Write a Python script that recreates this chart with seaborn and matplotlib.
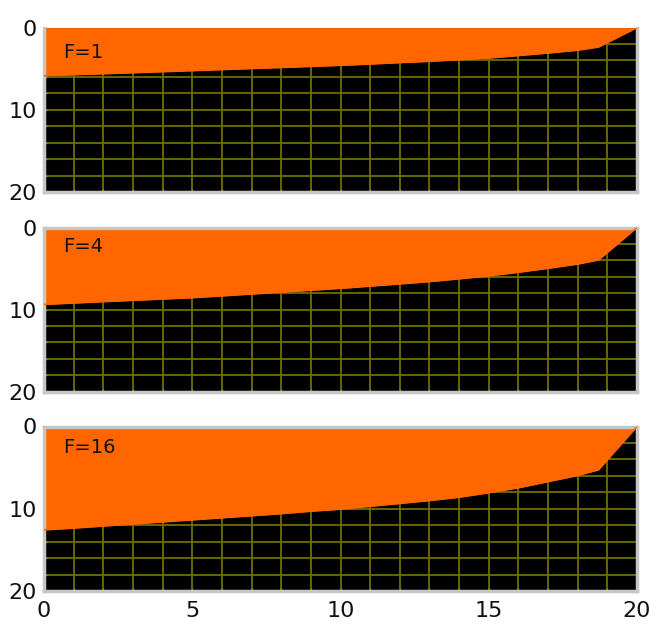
import numpy as np
import pandas as pd
import matplotlib
matplotlib.use("Agg")
import matplotlib.pyplot as plt
import seaborn as sns

# distance along the section and depth of the orange region
x_pos = [0, 1, 2, 3, 4, 5, 6, 7, 8, 9, 10, 11, 12, 13, 14, 15, 16, 17, 18, 18.7, 20]
depth_f1 = [5.85, 5.73, 5.61, 5.49, 5.36, 5.24, 5.11, 4.98, 4.85, 4.72, 4.59,
            4.43, 4.26, 4.10, 3.90, 3.70, 3.40, 3.09, 2.75, 2.36, 0.0]
depth_f4 = [9.36, 9.20, 9.03, 8.87, 8.71, 8.55, 8.33, 8.10, 7.87, 7.64, 7.41,
            7.14, 6.87, 6.59, 6.25, 5.90, 5.45, 4.97, 4.45, 3.95, 0.0]
depth_f16 = [12.57, 12.35, 12.10, 11.85, 11.60, 11.35, 11.10, 10.85, 10.60, 10.30, 10.05,
             9.70, 9.35, 9.00, 8.60, 8.05, 7.45, 6.70, 5.95, 5.27, 0.0]
f_labels = ["F=1", "F=4", "F=16"]

df = pd.concat([
    pd.DataFrame({"x": x_pos, "depth": d, "F": lab})
    for d, lab in zip([depth_f1, depth_f4, depth_f16], f_labels)
])

orange = "#ff6600"
grid_col = "#6e6e00"
frame_col = "#c6c6c6"

sns.set_theme(style="ticks", rc={
    "axes.facecolor": "black",
    "grid.color": grid_col,
    "grid.linewidth": 1.3,
})
plt.rcParams['font.family'] = ['DejaVu Sans Condensed', 'DejaVu Sans']

fig = plt.figure(figsize=(6.5, 6.4), dpi=100)

# axes boxes in pixels from the top: (top, bottom)
boxes = [(27.6, 192.0), (227.5, 391.7), (426.5, 591.0)]
label_y = [3.05, 2.3, 2.6]
left, right = 44, 637

for i, (lab, (top, bot)) in enumerate(zip(f_labels, boxes)):
    ax = fig.add_axes([left / 650, 1 - bot / 640, (right - left) / 650, (bot - top) / 640])
    sub = df[df["F"] == lab]
    ax.fill_between(sub["x"], 0, sub["depth"], color=orange, linewidth=0, zorder=2)
    sns.lineplot(data=sub, x="x", y="depth", color=orange, linewidth=1.2, ax=ax, zorder=3)

    ax.set_xlim(0, 20)
    ax.set_ylim(20, 0)
    ax.set_xticks([0, 5, 10, 15, 20])
    ax.set_xticks(np.arange(0, 21, 1), minor=True)
    ax.set_yticks([0, 10, 20])
    ax.set_yticks(np.arange(0, 21, 2), minor=True)
    ax.set_axisbelow(True)
    ax.grid(True, which="both", color=grid_col, linewidth=1.3)

    for s in ax.spines.values():
        s.set_color(frame_col)
        s.set_linewidth(2.5)
    if i == 0:
        # the top panel is cut off at its upper edge in the original screenshot
        ax.spines["top"].set_visible(False)
    ax.tick_params(which="both", direction="in", length=2, color="#808080", width=1)
    ax.tick_params(axis="y", labelsize=16, pad=5, labelcolor="#111111")
    ax.tick_params(axis="x", labelsize=16, pad=7, labelcolor="#111111")
    if i < 2:
        ax.tick_params(axis="x", labelbottom=False)
    ax.set_xlabel("")
    ax.set_ylabel("")

    ax.text(0.65, label_y[i], lab, fontsize=14, color="#111111",
            ha="left", va="center", zorder=5)

fig.savefig("out.png", dpi=100, facecolor="white")
